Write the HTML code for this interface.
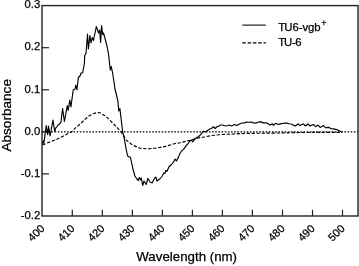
<!DOCTYPE html>
<html><head><meta charset="utf-8"><style>
html,body{margin:0;padding:0;background:#fff;overflow:hidden}
svg{display:block;will-change:transform;filter:grayscale(1);font-family:"Liberation Sans",sans-serif;fill:#000;}
text{stroke:#000;stroke-width:0.25px;}
</style></head><body>
<svg width="359" height="266" viewBox="0 0 359 266">
<rect width="359" height="266" fill="#fff"/>
<rect x="42" y="5.6" width="316" height="210.4" fill="none" stroke="#222" stroke-width="1.4"/>
<text x="40.2" y="8.3" text-anchor="end" font-size="11.3">0.3</text>
<line x1="42" y1="47.7" x2="49" y2="47.7" stroke="#222" stroke-width="1.2"/>
<text x="40.2" y="50.4" text-anchor="end" font-size="11.3">0.2</text>
<line x1="42" y1="89.8" x2="49" y2="89.8" stroke="#222" stroke-width="1.2"/>
<text x="40.2" y="92.5" text-anchor="end" font-size="11.3">0.1</text>
<line x1="42" y1="131.8" x2="49" y2="131.8" stroke="#222" stroke-width="1.2"/>
<text x="40.2" y="134.5" text-anchor="end" font-size="11.3">0.0</text>
<line x1="42" y1="173.9" x2="49" y2="173.9" stroke="#222" stroke-width="1.2"/>
<text x="40.2" y="176.6" text-anchor="end" font-size="11.3">-0.1</text>
<text x="40.2" y="218.7" text-anchor="end" font-size="11.3">-0.2</text>
<text x="45.3" y="229.1" text-anchor="end" font-size="11" transform="rotate(-45 45.3 229.1)">400</text>
<line x1="72.3" y1="216" x2="72.3" y2="209.7" stroke="#222" stroke-width="1.2"/>
<text x="75.3" y="229.1" text-anchor="end" font-size="11" transform="rotate(-45 75.3 229.1)">410</text>
<line x1="102.3" y1="216" x2="102.3" y2="209.7" stroke="#222" stroke-width="1.2"/>
<text x="105.3" y="229.1" text-anchor="end" font-size="11" transform="rotate(-45 105.3 229.1)">420</text>
<line x1="132.4" y1="216" x2="132.4" y2="209.7" stroke="#222" stroke-width="1.2"/>
<text x="135.4" y="229.1" text-anchor="end" font-size="11" transform="rotate(-45 135.4 229.1)">430</text>
<line x1="162.4" y1="216" x2="162.4" y2="209.7" stroke="#222" stroke-width="1.2"/>
<text x="165.4" y="229.1" text-anchor="end" font-size="11" transform="rotate(-45 165.4 229.1)">440</text>
<line x1="192.4" y1="216" x2="192.4" y2="209.7" stroke="#222" stroke-width="1.2"/>
<text x="195.4" y="229.1" text-anchor="end" font-size="11" transform="rotate(-45 195.4 229.1)">450</text>
<line x1="222.4" y1="216" x2="222.4" y2="209.7" stroke="#222" stroke-width="1.2"/>
<text x="225.4" y="229.1" text-anchor="end" font-size="11" transform="rotate(-45 225.4 229.1)">460</text>
<line x1="252.4" y1="216" x2="252.4" y2="209.7" stroke="#222" stroke-width="1.2"/>
<text x="255.4" y="229.1" text-anchor="end" font-size="11" transform="rotate(-45 255.4 229.1)">470</text>
<line x1="282.5" y1="216" x2="282.5" y2="209.7" stroke="#222" stroke-width="1.2"/>
<text x="285.5" y="229.1" text-anchor="end" font-size="11" transform="rotate(-45 285.5 229.1)">480</text>
<line x1="312.5" y1="216" x2="312.5" y2="209.7" stroke="#222" stroke-width="1.2"/>
<text x="315.5" y="229.1" text-anchor="end" font-size="11" transform="rotate(-45 315.5 229.1)">490</text>
<line x1="342.5" y1="216" x2="342.5" y2="209.7" stroke="#222" stroke-width="1.2"/>
<text x="345.5" y="229.1" text-anchor="end" font-size="11" transform="rotate(-45 345.5 229.1)">500</text>
<line x1="42" y1="131.8" x2="358" y2="131.8" stroke="#000" stroke-width="1.2" stroke-dasharray="1.6 1.55"/>
<polyline points="42.5,145.0 46.8,143.1 51.3,141.5 56.9,139.2 62.5,136.4 68.2,133.6 71.6,131.9 76.1,127.3 80.0,124.3 85.0,119.3 89.0,116.0 93.0,113.7 97.0,112.6 100.0,112.8 105.6,116.0 110.3,120.7 116.9,127.3 121.5,132.5 126.3,140.1 132.6,145.2 140.2,148.2 147.7,148.9 155.3,148.2 165.4,146.4 175.0,143.5 180.2,142.7 190.2,140.2 200.3,137.5 204.5,137.0 211.0,135.6 222.0,134.5 233.0,134.0 244.5,133.4 280.0,133.0 300.0,132.5 342.0,132.3" fill="none" stroke="#000" stroke-width="1.15" stroke-dasharray="3.3 1.7" stroke-linejoin="round"/>
<polyline points="42.5,144.2 43.4,140.9 43.9,143.1 46.2,125.6 47.7,134.7 48.5,126.2 50.1,135.8 53.0,120.0 54.7,131.5 55.8,127.9 56.9,126.8 58.0,125.0 59.7,123.9 60.9,122.2 62.6,108.5 64.4,121.5 67.3,105.5 68.2,110.5 69.8,100.0 70.9,107.0 73.2,90.0 75.0,89.0 75.8,85.0 76.9,90.0 78.4,77.5 80.3,75.5 81.0,73.0 82.6,73.0 84.4,63.5 84.7,55.5 86.0,53.5 87.5,34.0 88.4,49.0 89.9,35.5 91.0,43.0 92.2,37.5 93.5,40.5 96.3,26.5 98.6,33.0 99.7,30.0 100.6,42.5 101.6,25.5 102.7,34.5 103.5,33.0 105.3,39.5 107.2,47.0 108.5,54.0 110.3,70.0 111.3,66.5 112.8,74.0 115.0,89.0 117.9,101.0 118.8,111.0 119.9,108.5 121.6,123.0 122.6,132.0 123.8,136.0 126.3,150.0 127.6,156.0 130.5,157.5 132.7,168.0 134.9,176.0 136.9,179.0 138.3,180.5 139.3,177.5 140.6,180.0 141.3,178.0 142.7,185.5 144.0,181.0 146.2,184.5 147.9,178.5 150.1,182.0 152.1,183.0 154.7,178.0 155.9,177.0 156.9,181.0 159.8,179.0 162.3,176.0 163.7,173.0 165.0,173.5 165.6,170.5 166.9,171.5 169.2,166.5 171.5,164.5 173.3,162.4 175.1,159.0 176.4,161.0 178.3,157.6 180.2,153.0 182.1,150.4 183.9,149.0 185.8,146.1 187.7,144.0 189.6,141.3 191.5,140.0 192.7,142.0 194.6,139.4 196.5,137.5 198.4,136.7 200.3,135.0 203.3,131.2 205.6,132.0 207.8,130.2 210.0,129.0 211.7,128.2 213.4,126.7 215.1,128.5 217.0,126.6 218.9,126.0 220.6,125.0 222.3,125.0 225.6,126.0 227.3,125.8 229.0,125.0 231.5,126.0 234.5,124.5 236.8,125.6 240.0,123.8 242.2,123.0 244.5,122.9 246.8,122.1 249.0,122.2 251.2,122.0 253.5,122.9 255.7,123.1 257.9,122.2 260.1,121.6 263.5,122.9 266.8,122.9 270.2,125.1 272.4,123.8 273.5,125.3 275.6,123.4 278.9,124.5 281.1,123.6 283.4,123.4 285.2,123.1 287.1,123.1 288.9,123.8 291.1,124.0 293.4,125.1 295.6,126.0 297.8,123.8 300.0,125.6 303.4,123.8 305.6,126.0 307.9,123.8 310.0,126.0 313.4,124.5 315.7,126.7 317.9,125.1 320.1,127.4 323.5,125.6 325.7,127.8 329.0,127.4 331.2,128.8 333.5,128.9 336.8,129.6 340.2,131.2 342.4,132.3" fill="none" stroke="#000" stroke-width="1.15" stroke-linejoin="round"/>
<line x1="242.3" y1="25.1" x2="265.8" y2="25.1" stroke="#000" stroke-width="1.05"/>
<line x1="242.3" y1="42.9" x2="265.8" y2="42.9" stroke="#000" stroke-width="1.1" stroke-dasharray="3.5 1.8"/>
<text x="278.2" y="30.8" font-size="11.4" letter-spacing="-0.08" dx="0 -0.8">TU6-vgb</text>
<text x="321.2" y="26.2" font-size="8.8">+</text>
<text x="278.2" y="46.4" font-size="11.4" letter-spacing="-0.45" dx="0 -0.6">TU-6</text>
<text x="136.3" y="260.7" font-size="13.3">Wavelength (nm)</text>
<text x="11.3" y="151.6" font-size="13.6" transform="rotate(-90 11.3 151.6)">Absorbance</text>
</svg>
</body></html>
